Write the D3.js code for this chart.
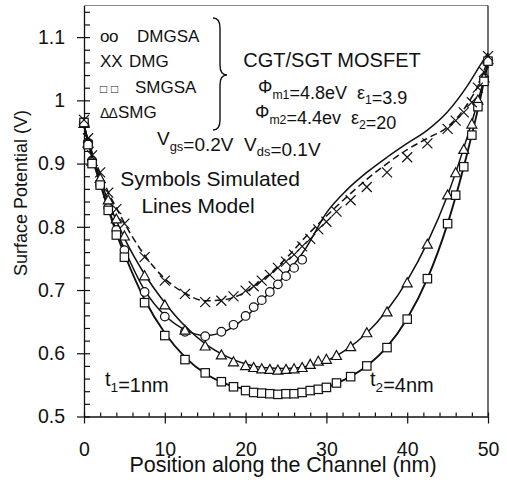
<!DOCTYPE html>
<html>
<head>
<meta charset="utf-8">
<script src="https://cdn.jsdelivr.net/npm/d3@7/dist/d3.min.js"></script>
<style>
  html, body { margin: 0; padding: 0; background: #fff; }
  svg { display: block; font-family: "Liberation Sans", Arial, sans-serif; }
</style>
</head>
<body>
<svg id="chart" width="507" height="480"></svg>
<script>
// simulated points (symbols), shared x grid, nm
const simX = [0, 0.5, 1, 2, 3, 4, 5, 7.5, 10, 12.5, 15, 17, 18.5, 20, 21, 22, 23, 24, 25, 26, 27, 28, 29, 30, 31.25, 33, 35, 37.5, 40, 42.5, 45, 46, 47, 48, 48.75, 49.5, 50];
const dmgsaSim = [0.965, 0.933, 0.905, 0.866, 0.83, 0.795, 0.763, 0.697, 0.658, 0.634, 0.627, 0.634, 0.645, 0.659, 0.673, 0.684, 0.697, 0.709, 0.722, 0.735, 0.748,
  null, null, null, null, null, null, null, null, null, null, null, null, null, null, 1.032, 1.062];
const dmgSim = [0.969, 0.94, 0.913, 0.886, 0.854, 0.828, 0.805, 0.752, 0.715, 0.694, 0.681, 0.683, 0.69, 0.699, 0.706, 0.715, 0.724, 0.735, 0.745, 0.756, 0.769, 0.781, 0.796, 0.808, 0.824, 0.842, 0.863, 0.886, 0.91, 0.932, 0.955, 0.968, 0.981, 0.997, 1.02, 1.045, 1.07];
const smgsaSim = [0.965, 0.93, 0.9, 0.866, 0.826, 0.787, 0.752, 0.68, 0.628, 0.59, 0.569, 0.555, 0.547, 0.541, 0.538, 0.537, 0.536, 0.535, 0.536, 0.536, 0.538, 0.541, 0.543, 0.546, 0.553, 0.563, 0.58, 0.609, 0.654, 0.718, 0.805, 0.85, 0.895, 0.945, 0.99, 1.03, 1.062];
const smgSim = [0.963, 0.932, 0.903, 0.876, 0.842, 0.812, 0.785, 0.722, 0.676, 0.636, 0.611, 0.597, 0.586, 0.58, 0.577, 0.575, 0.574, 0.573, 0.574, 0.575, 0.577, 0.582, 0.587, 0.59, 0.596, 0.61, 0.632, 0.665, 0.711, 0.772, 0.85, 0.885, 0.922, 0.962, 1.0, 1.035, 1.064];

// model curves (lines)
const modelX = [0, 1, 2, 3, 4, 5, 7.5, 10, 12.5, 15, 17.5, 20, 22.5, 25, 27.5, 30, 32.5, 35, 37.5, 40, 42.5, 45, 47.5, 49, 50];
const dmgsaModel = [0.96, 0.915, 0.87, 0.83, 0.795, 0.765, 0.70, 0.66, 0.637, 0.628, 0.635, 0.657, 0.69, 0.725, 0.767, 0.822, 0.858, 0.886, 0.91, 0.932, 0.953, 0.982, 1.024, 1.055, 1.075];
const dmgModel = [0.96, 0.918, 0.885, 0.855, 0.83, 0.806, 0.755, 0.718, 0.695, 0.683, 0.685, 0.697, 0.72, 0.75, 0.785, 0.817, 0.847, 0.875, 0.9, 0.922, 0.94, 0.958, 0.995, 1.03, 1.065];
const smgsaModel = [0.96, 0.91, 0.868, 0.828, 0.79, 0.757, 0.685, 0.632, 0.594, 0.568, 0.552, 0.543, 0.538, 0.537, 0.539, 0.546, 0.56, 0.58, 0.61, 0.655, 0.718, 0.805, 0.92, 1.0, 1.06];
const smgModel = [0.96, 0.915, 0.876, 0.84, 0.81, 0.782, 0.725, 0.68, 0.643, 0.615, 0.596, 0.583, 0.577, 0.576, 0.579, 0.588, 0.606, 0.632, 0.668, 0.715, 0.775, 0.85, 0.945, 1.01, 1.06];

// ticks
const xMajor = [0, 10, 20, 30, 40, 50];
const xMinor = d3.range(0, 50.01, 2);
const yMajor = [0.5, 0.6, 0.7, 0.8, 0.9, 1, 1.1];
const yMinor = d3.range(0.5, 1.141, 0.02).map((v) => +v.toFixed(2));

const legendLabels = [
  { sym: 'o', name: 'DMGSA' },
  { sym: 'X', name: 'DMG' },
  { sym: '\u25A1', name: 'SMGSA' },
  { sym: '\u0394', name: 'SMG' },
];

const ink = '#111';
const svg = d3.select('#chart');
const x = d3.scaleLinear().domain([0, 50]).range([84, 488]);
const y = d3.scaleLinear().domain([0.5, 1.15]).range([416.5, 5.5]);

// frame: top grey, right black
svg.append('line').attr('x1', x(0)).attr('x2', x(50)).attr('y1', y(1.15)).attr('y2', y(1.15))
  .attr('stroke', '#888').attr('stroke-width', 1.2);
svg.append('line').attr('x1', x(50)).attr('x2', x(50)).attr('y1', y(1.15)).attr('y2', y(0.5))
  .attr('stroke', ink).attr('stroke-width', 1.2);

// axes
const yAxis = svg.append('g').attr('transform', `translate(${x(0)},0)`)
  .call(d3.axisLeft(y).tickValues(yMajor).tickSizeInner(7).tickSizeOuter(0).tickPadding(12).tickFormat((d) => String(d)));
const yIn = svg.append('g').attr('transform', `translate(${x(0)},0)`)
  .call(d3.axisRight(y).tickValues(yMinor).tickSize(6).tickFormat(''));
const xAxis = svg.append('g').attr('transform', `translate(0,${y(0.5)})`)
  .call(d3.axisBottom(x).tickValues(xMajor).tickSizeInner(7).tickSizeOuter(0).tickPadding(19));
const xIn = svg.append('g').attr('transform', `translate(0,${y(0.5)})`)
  .call(d3.axisTop(x).tickValues(xMinor).tickSize(4).tickFormat(''));
[yAxis, yIn, xAxis, xIn].forEach((g) => {
  g.selectAll('path').attr('stroke', ink).attr('stroke-width', 1.3);
  g.selectAll('line').attr('stroke', ink).attr('stroke-width', 1.2);
  g.selectAll('text').attr('fill', ink).attr('font-size', 19.5).attr('font-family', 'Liberation Sans, Arial, sans-serif');
});
yIn.select('path').remove();
xIn.select('path').remove();

// axis titles (the x title overlaps the tick labels in the original too)
svg.append('text').attr('x', 283).attr('y', 471.5).attr('text-anchor', 'middle')
  .attr('font-size', 21.5).attr('fill', ink).text('Position along the Channel (nm)');
svg.append('text').attr('transform', 'translate(27,193) rotate(-90)').attr('text-anchor', 'middle')
  .attr('font-size', 18).attr('fill', ink).text('Surface Potential (V)');

// model lines
const line = d3.line().defined((d) => d[1] != null).x((d) => x(d[0])).y((d) => y(d[1])).curve(d3.curveMonotoneX);
const pairs = (xs, vs) => xs.map((v, i) => [v, vs[i]]);
const models = [
  { v: smgsaModel, w: 1.9, dash: null },
  { v: smgModel, w: 1.5, dash: null },
  { v: dmgsaModel, w: 1.5, dash: null },
  { v: dmgModel, w: 1.5, dash: '7,4' },
];
models.forEach((m) => {
  svg.append('path').datum(pairs(modelX, m.v)).attr('d', line)
    .attr('fill', 'none').attr('stroke', ink).attr('stroke-width', m.w)
    .attr('stroke-dasharray', m.dash);
});

// symbols
function drawSymbols(vals, shape) {
  const pts = pairs(simX, vals).filter((d) => d[1] != null);
  const g = svg.append('g').attr('fill', '#fff').attr('stroke', ink).attr('stroke-width', 1.2);
  pts.forEach(([px, pv]) => {
    const cx = x(px), cy = y(pv);
    if (shape === 'circle') {
      g.append('circle').attr('cx', cx).attr('cy', cy).attr('r', 4.3);
    } else if (shape === 'square') {
      g.append('rect').attr('x', cx - 4.2).attr('y', cy - 4.2).attr('width', 8.4).attr('height', 8.4);
    } else if (shape === 'triangle') {
      g.append('path').attr('d', `M${cx},${cy - 5.3}L${cx + 5},${cy + 3.7}L${cx - 5},${cy + 3.7}Z`);
    } else {
      g.append('path').attr('fill', 'none')
        .attr('d', `M${cx - 5},${cy - 5}L${cx + 5},${cy + 5}M${cx - 5},${cy + 5}L${cx + 5},${cy - 5}`);
    }
  });
}
drawSymbols(dmgsaSim, 'circle');
drawSymbols(smgSim, 'triangle');
drawSymbols(smgsaSim, 'square');
drawSymbols(dmgSim, 'cross');

// legend: each symbol character twice, then the name
const symSize = [17, 17, 12, 14];
const symStep = [9, 11.3, 11, 8.6];
const nameX = [137, 129, 135, 118];
legendLabels.forEach((l, i) => {
  const by = 41.7 + i * 25.5;
  [0, 1].forEach((k) => {
    svg.append('text').attr('x', 100 + k * symStep[i]).attr('y', by).attr('font-size', symSize[i])
      .attr('fill', ink).text(l.sym);
  });
  svg.append('text').attr('x', nameX[i]).attr('y', by).attr('font-size', 17).attr('fill', ink).text(l.name);
});
svg.append('path').attr('d', 'M213,18 Q220,18 220,28 L220,65 Q220,75 227,75 Q220,75 220,85 L220,120 Q220,130 213,130')
  .attr('fill', 'none').attr('stroke', ink).attr('stroke-width', 1.4);

// annotations
function richText(xp, yp, size, parts, anchor) {
  const t = svg.append('text').attr('x', xp).attr('y', yp).attr('font-size', size).attr('fill', ink)
    .attr('text-anchor', anchor || 'start').attr('xml:space', 'preserve');
  parts.forEach((p) => {
    if (typeof p === 'string') t.append('tspan').text(p);
    else t.append('tspan').attr('font-size', size * 0.68).attr('dy', size * 0.3).text(p.sub)
      .clone(true).text('').attr('dy', -size * 0.3);
  });
  return t;
}
svg.append('text').attr('x', 332).attr('y', 66.7).attr('text-anchor', 'middle').attr('font-size', 20).attr('fill', ink).text('CGT/SGT MOSFET');
richText(258, 93.3, 18, ['\u03A6', { sub: 'm1' }, '=4.8eV  \u03B5', { sub: '1' }, '=3.9']);
richText(255, 118.3, 18, ['\u03A6', { sub: 'm2' }, '=4.4ev  \u03B5', { sub: '2' }, '=20']);
richText(157, 145, 19, ['V', { sub: 'gs' }, '=0.2V  V', { sub: 'ds' }, '=0.1V']);
svg.append('text').attr('x', 210).attr('y', 186).attr('text-anchor', 'middle').attr('font-size', 21).attr('fill', ink).text('Symbols Simulated');
svg.append('text').attr('x', 198).attr('y', 213.3).attr('text-anchor', 'middle').attr('font-size', 21).attr('fill', ink).text('Lines Model');
richText(105, 386, 20, ['t', { sub: '1' }, '=1nm']);
richText(370, 386, 20, ['t', { sub: '2' }, '=4nm']);
</script>
</body>
</html>
